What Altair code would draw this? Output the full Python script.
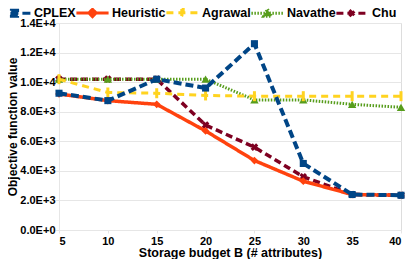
import altair as alt
import pandas as pd

budgets = [5, 10, 15, 20, 25, 30, 35, 40]
series_names = ["CPLEX", "Heuristic", "Agrawal", "Navathe", "Chu"]
cplex = [9250, 8750, 10200, 9600, 12600, 4500, 2400, 2350]
heuristic = [9200, 8750, 8500, 6700, 4700, 3300, 2400, 2350]
agrawal = [10200, 9300, 9250, 9100, 9050, 9050, 9050, 9050]
navathe = [10200, 10200, 10200, 10200, 8800, 8800, 8500, 8300]
chu = [10200, 10200, 10200, 7100, 5600, 3600, 2400, 2350]
y_ticks = [0, 2000, 4000, 6000, 8000, 10000, 12000, 14000]

values = {"CPLEX": cplex, "Heuristic": heuristic, "Agrawal": agrawal,
          "Navathe": navathe, "Chu": chu}

colors = {"CPLEX": "#004586", "Heuristic": "#ff420e", "Agrawal": "#ffd320",
          "Navathe": "#579d1c", "Chu": "#7e0021"}
dashes = {"CPLEX": [8, 4], "Heuristic": [1, 0], "Agrawal": [7, 5],
          "Navathe": [1.5, 1.5], "Chu": [7, 4]}
widths = {"CPLEX": 4, "Heuristic": 3.5, "Agrawal": 3, "Navathe": 3, "Chu": 3.5}
shapes = {"CPLEX": "square", "Heuristic": "diamond",
          "Agrawal": "M-0.3,-1H0.3V1H-0.3Z", "Navathe": "triangle-up",
          "Chu": "cross"}
sizes = {"CPLEX": 50, "Heuristic": 60, "Agrawal": 100, "Navathe": 70, "Chu": 60}
angles = {"CPLEX": 0, "Heuristic": 0, "Agrawal": 0, "Navathe": 0, "Chu": 45}
legend_paths = {
    "CPLEX": "M-1.15,0H1.15M-0.22,-0.22H0.22V0.22H-0.22Z",
    "Heuristic": "M-1.15,0H1.15M0,-0.26L0.26,0L0,0.26L-0.26,0Z",
    "Agrawal": "M-1.15,0H1.15M-0.05,-0.3H0.05V0.3H-0.05Z",
    "Navathe": "M-1.15,0H1.15M0,-0.28L0.28,0.22H-0.28Z",
    "Chu": "M-1.15,0H1.15M-0.22,-0.22L0.22,0.22M-0.22,0.22L0.22,-0.22",
}

rows = []
for s in series_names:
    for b, v in zip(budgets, values[s]):
        rows.append({"series": s, "budget": b, "value": v})
df = pd.DataFrame(rows)

font = "Liberation Sans"
grid_color = "#e6e6e6"

x_enc = alt.X("budget:Q",
              scale=alt.Scale(domain=[5, 40], nice=False, zero=False),
              axis=alt.Axis(values=budgets, title="Storage budget B (# attributes)",
                            grid=False, domainColor=grid_color, tickColor=grid_color,
                            tickSize=3, labelFontSize=11, labelFontWeight="bold",
                            labelFont=font, labelColor="black", labelPadding=2,
                            titleFontSize=12.5, titleFontWeight="bold", titleFont=font,
                            titleColor="black", titlePadding=0))
y_enc = alt.Y("value:Q",
              scale=alt.Scale(domain=[0, 14000], nice=False),
              axis=alt.Axis(values=y_ticks, title="Objective function value",
                            grid=True, gridColor=grid_color, domainColor=grid_color,
                            tickColor=grid_color, tickSize=4,
                            labelExpr="replace(format(datum.value, '.1e'), 'e', 'E')",
                            labelFontSize=11, labelFontWeight="bold", labelFont=font,
                            labelColor="black", labelPadding=0,
                            titleFontSize=12, titleFontWeight="bold", titleFont=font,
                            titleColor="black", titlePadding=0))

layers = []
for s in reversed(series_names):
    base = alt.Chart(df).transform_filter(alt.datum.series == s)
    line = base.mark_line(color=colors[s], strokeWidth=widths[s],
                          strokeDash=dashes[s], strokeCap="butt").encode(x=x_enc, y=y_enc)
    pt = base.mark_point(shape=shapes[s], filled=True, size=sizes[s],
                         angle=angles[s], color=colors[s], opacity=1).encode(x=x_enc, y=y_enc)
    layers += [line, pt]

leg = alt.Legend(title=None, orient="none", legendX=-60, legendY=-26,
                 direction="horizontal", symbolSize=784, symbolStrokeWidth=3,
                 labelFont=font, labelFontSize=12.5, labelFontWeight="bold",
                 labelColor="black", labelOffset=4, columnPadding=-6,
                 padding=0, symbolOpacity=1)

color_range = [colors[s] for s in series_names]
legend_layer = alt.Chart(df).mark_point(filled=False, opacity=1).encode(
    color=alt.Color("series:N", scale=alt.Scale(domain=series_names,
                    range=color_range), legend=leg),
    fill=alt.Fill("series:N", scale=alt.Scale(domain=series_names,
                  range=color_range), legend=leg),
    shape=alt.Shape("series:N", scale=alt.Scale(domain=series_names,
                    range=[legend_paths[s] for s in series_names]), legend=leg),
    strokeDash=alt.StrokeDash("series:N", scale=alt.Scale(domain=series_names,
                    range=[dashes[s] for s in series_names]), legend=leg),
).transform_filter("false")

chart = alt.layer(*layers, legend_layer).properties(
    width=342, height=207,
    autosize=alt.AutoSizeParams(type="none"),
    padding={"left": 51, "top": 15, "right": 6, "bottom": 29},
).configure_view(stroke=grid_color).configure(background="white")

chart.save("out.html", embed_options={"renderer": "svg", "actions": False})
